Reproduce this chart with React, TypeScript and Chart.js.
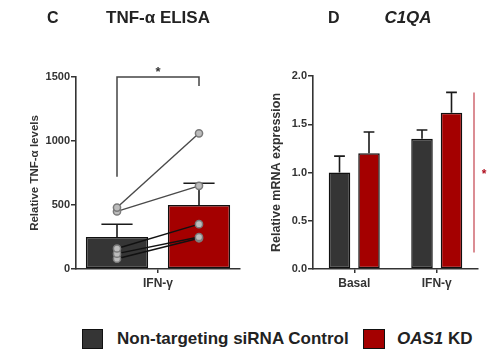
import React, { useEffect, useRef } from "react";
import { Chart, registerables } from "chart.js";
Chart.register(...registerables);

const FONT = "'Liberation Sans', Arial, Helvetica, sans-serif";
const DARK = "#353535";
const RED = "#a40000";
const AXIS = "#333333";

// ---- Panel C: TNF-α ELISA ----
const cCategories = ["IFN-γ"];
const cGroups = ["Non-targeting siRNA Control", "OAS1 KD"];
const cControlMean = [250];
const cControlErr = [100];
const cKdMean = [500];
const cKdErr = [170];
const cDonorControl = [480, 450, 160, 120, 80];
const cDonorKd = [1060, 650, 350, 250, 240];
const cYTicks = [0, 500, 1000, 1500];
const cBracket = [1500, 720, 1430]; // top, left leg bottom, right leg bottom

// ---- Panel D: C1QA ----
const dCategories = ["Basal", "IFN-γ"];
const dControlMean = [1.0, 1.35];
const dControlErr = [0.17, 0.09];
const dKdMean = [1.2, 1.62];
const dKdErr = [0.22, 0.21];
const dYTicks = [0, 0.5, 1.0, 1.5, 2.0];
const dSigLine = [1.83, 0.17];
const dSigStar = [1.0];

function makeErrorPlugin(errs: (number | null)[][]) {
  return {
    id: "errorBars",
    beforeDatasetsDraw(chart: any) {
      const ctx = chart.ctx;
      const y = chart.scales.y;
      errs.forEach((e, i) => {
        const meta = chart.getDatasetMeta(i);
        const ds = chart.data.datasets[i];
        meta.data.forEach((bar: any, j: number) => {
          const v = ds.data[j];
          const err = e[j];
          if (v == null || err == null) return;
          const p = bar.getProps(["x", "y", "width"], true);
          const top = y.getPixelForValue((v as number) + err);
          ctx.save();
          ctx.strokeStyle = "#1a1a1a";
          ctx.lineWidth = 1.6;
          ctx.beginPath();
          ctx.moveTo(p.x, p.y);
          ctx.lineTo(p.x, top);
          ctx.moveTo(p.x - p.width / 4, top);
          ctx.lineTo(p.x + p.width / 4, top);
          ctx.stroke();
          ctx.restore();
        });
      });
    },
  };
}

const bracketPlugin = {
  id: "bracketC",
  afterDraw(chart: any) {
    const ctx = chart.ctx;
    const y = chart.scales.y;
    const xb = chart.scales.xb;
    const ax = xb.getPixelForValue(0);
    const bx = xb.getPixelForValue(1);
    const top = y.getPixelForValue(cBracket[0]);
    ctx.save();
    ctx.strokeStyle = "#444";
    ctx.lineWidth = 1.5;
    ctx.beginPath();
    ctx.moveTo(ax, y.getPixelForValue(cBracket[1]));
    ctx.lineTo(ax, top);
    ctx.lineTo(bx, top);
    ctx.lineTo(bx, y.getPixelForValue(cBracket[2]));
    ctx.stroke();
    ctx.fillStyle = "#333";
    ctx.font = `bold 13px ${FONT}`;
    ctx.textAlign = "center";
    ctx.textBaseline = "middle";
    ctx.fillText("*", (ax + bx) / 2, top - 5);
    ctx.restore();
  },
};

const sigDPlugin = {
  id: "sigD",
  afterDraw(chart: any) {
    const ctx = chart.ctx;
    const y = chart.scales.y;
    const x = chart.chartArea.right - 4;
    ctx.save();
    ctx.strokeStyle = "#c8505a";
    ctx.lineWidth = 1.3;
    ctx.beginPath();
    ctx.moveTo(x, y.getPixelForValue(dSigLine[0]));
    ctx.lineTo(x, y.getPixelForValue(dSigLine[1]));
    ctx.stroke();
    ctx.fillStyle = "#b01020";
    ctx.font = `bold 12px ${FONT}`;
    ctx.textAlign = "center";
    ctx.textBaseline = "middle";
    ctx.fillText("*", x + 10, y.getPixelForValue(dSigStar[0]) + 2);
    ctx.restore();
  },
};

const tickFont = { family: FONT, size: 11, weight: "bold" as const };

function yAxis(min: number, max: number, ticks: number[], title: string, width: number, titleSize: number, fmt: (v: number) => string) {
  return {
    type: "linear",
    position: "left",
    min,
    max,
    afterBuildTicks: (s: any) => {
      s.ticks = ticks.map((v) => ({ value: v }));
    },
    afterFit: (s: any) => {
      s.width = width;
    },
    ticks: { font: tickFont, color: AXIS, padding: 1, callback: (v: any) => fmt(Number(v)) },
    grid: { drawOnChartArea: false, tickLength: 5, color: AXIS, lineWidth: 1.5 },
    border: { color: AXIS, width: 1.6 },
    title: { display: true, text: title, font: { family: FONT, size: titleSize, weight: "bold" as const }, color: "#333", padding: 4 },
  };
}

function xAxis(height: number, labels: string[]) {
  return {
    type: "category",
    position: "bottom",
    labels,
    offset: true,
    afterFit: (s: any) => {
      s.height = height;
    },
    ticks: { font: { family: FONT, size: 12, weight: "bold" as const }, color: AXIS, padding: 3 },
    grid: { drawOnChartArea: false, offset: false, tickLength: 4, color: AXIS, lineWidth: 1.5 },
    border: { color: AXIS, width: 1.6 },
  };
}

function PanelC() {
  const ref = useRef<HTMLCanvasElement>(null);
  useEffect(() => {
    if (!ref.current) return;
    const donorSets = cDonorControl.map((v, i) => ({
      type: "line" as const,
      xAxisID: "xb",
      yAxisID: "y",
      data: [v, cDonorKd[i]],
      borderColor: i < 2 ? "#4a4a4a" : "#111",
      borderWidth: 1.4,
      pointRadius: 3.6,
      pointBackgroundColor: "#bcbcbc",
      pointBorderColor: "#7a7a7a",
      pointBorderWidth: 1.5,
      order: 0,
    }));
    const chart = new Chart(ref.current, {
      type: "bar",
      data: {
        labels: cGroups,
        datasets: [
          { xAxisID: "xb", yAxisID: "y", data: [cControlMean[0], null], backgroundColor: DARK, borderColor: "#111", borderWidth: 1.5, borderSkipped: false, order: 1, grouped: false },
          { xAxisID: "xb", yAxisID: "y", data: [null, cKdMean[0]], backgroundColor: RED, borderColor: "#111", borderWidth: 1.5, borderSkipped: false, order: 1, grouped: false },
          ...donorSets,
        ] as any,
      },
      options: {
        animation: false,
        responsive: false,
        layout: { padding: { left: 24, right: 10, top: 77, bottom: 0 } },
        datasets: { bar: { categoryPercentage: 1.0, barPercentage: 0.76 } },
        plugins: { legend: { display: false }, tooltip: { enabled: false } },
        scales: {
          x: xAxis(31, cCategories),
          xb: { type: "category", labels: cGroups, offset: true, display: false },
          y: yAxis(0, 1500, cYTicks, "Relative TNF-α levels", 52, 11.5, (v) => String(v)),
        } as any,
      },
      plugins: [makeErrorPlugin([[cControlErr[0], null], [null, cKdErr[0]]]), bracketPlugin],
    });
    return () => chart.destroy();
  }, []);
  return <canvas ref={ref} width={250} height={300} style={{ position: "absolute", left: 0, top: 0, width: 250, height: 300 }} />;
}

function PanelD() {
  const ref = useRef<HTMLCanvasElement>(null);
  useEffect(() => {
    if (!ref.current) return;
    const chart = new Chart(ref.current, {
      type: "bar",
      data: {
        labels: dCategories,
        datasets: [
          { data: dControlMean, backgroundColor: DARK, borderColor: "#111", borderWidth: 1.5, borderSkipped: false },
          { data: dKdMean, backgroundColor: RED, borderColor: "#111", borderWidth: 1.5, borderSkipped: false },
        ],
      },
      options: {
        animation: false,
        responsive: false,
        layout: { padding: { left: 15, right: 22, top: 76, bottom: 0 } },
        datasets: { bar: { categoryPercentage: 0.715, barPercentage: 0.73 } },
        plugins: { legend: { display: false }, tooltip: { enabled: false } },
        scales: {
          x: xAxis(31, dCategories),
          y: yAxis(0, 2, dYTicks, "Relative mRNA expression", 48, 12.5, (v) => v.toFixed(1)),
        } as any,
      },
      plugins: [makeErrorPlugin([dControlErr, dKdErr]), sigDPlugin],
    });
    return () => chart.destroy();
  }, []);
  return <canvas ref={ref} width={250} height={300} style={{ position: "absolute", left: 250, top: 0, width: 250, height: 300 }} />;
}

const txt: React.CSSProperties = {
  position: "absolute",
  fontFamily: FONT,
  fontWeight: "bold",
  color: "#222",
  whiteSpace: "nowrap",
};

export default function App() {
  return (
    <div style={{ position: "absolute", left: 0, top: 0, width: 500, height: 352, background: "#fff", overflow: "hidden" }}>
      <PanelC />
      <PanelD />
      <div style={{ ...txt, left: 47, top: 9, fontSize: 16, lineHeight: "18px" }}>C</div>
      <div style={{ ...txt, left: 58, width: 200, top: 9, fontSize: 17, lineHeight: "18px", textAlign: "center" }}>TNF-α ELISA</div>
      <div style={{ ...txt, left: 328, top: 9, fontSize: 16, lineHeight: "18px" }}>D</div>
      <div style={{ ...txt, left: 358, width: 100, top: 9, fontSize: 17, lineHeight: "18px", textAlign: "center", fontStyle: "italic" }}>C1QA</div>
      <div style={{ position: "absolute", left: 82, top: 329, width: 21, height: 20, boxSizing: "border-box", border: "1.5px solid #111", background: DARK }} />
      <div style={{ ...txt, left: 117, top: 329, fontSize: 17, lineHeight: "20px" }}>Non-targeting siRNA Control</div>
      <div style={{ position: "absolute", left: 363, top: 329, width: 22, height: 20, boxSizing: "border-box", border: "1.5px solid #111", background: RED }} />
      <div style={{ ...txt, left: 397, top: 329, fontSize: 17, lineHeight: "20px" }}>
        <i>OAS1</i> KD
      </div>
    </div>
  );
}
